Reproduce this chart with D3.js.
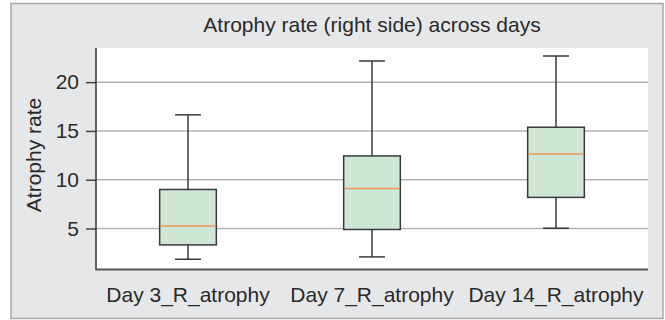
<!DOCTYPE html>
<html>
<head>
    <title>Atrophy rate (right side) across days</title>
    <script src="https://cdnjs.cloudflare.com/ajax/libs/d3/7.8.5/d3.min.js"></script>
    <style>
    body { margin:0; background:#fff; }
    svg { display:block; font-family:"Liberation Sans", Arial, sans-serif; }
    </style>
</head>
<body>
<div class="chart"></div>
<script>
// data
var categories = ['Day 3_R_atrophy', 'Day 7_R_atrophy', 'Day 14_R_atrophy'];
var mins    = [1.85, 2.09, 5.03];
var q1s     = [3.32, 4.90, 8.19];
var medians = [5.27, 9.11, 12.64];
var q3s     = [9.00, 12.44, 15.38];
var maxs    = [16.65, 22.17, 22.68];
var yTicks  = [5, 10, 15, 20];

var width = 665, height = 320;
var plot = {left:96, right:648, top:48, bottom:269.5};

var svg = d3.select('.chart').append('svg')
    .attr('width', width)
    .attr('height', height);

// outer frame
svg.append('rect')
    .attr('x', 11).attr('y', 3.5)
    .attr('width', 652).attr('height', 315)
    .attr('fill', '#e6e7e9')
    .attr('stroke', '#a9a9ab')
    .attr('stroke-width', 1.5);

svg.append('rect')
    .attr('x', plot.left).attr('y', plot.top)
    .attr('width', plot.right - plot.left).attr('height', plot.bottom - plot.top)
    .attr('fill', '#fff');

var x = d3.scaleBand().domain(categories).range([plot.left, plot.right]).padding(0);
var y = d3.scaleLinear().domain([0.8, 23.5]).range([plot.bottom, plot.top]);

// grid
svg.selectAll('.grid').data(yTicks).enter().append('line')
    .attr('class', 'grid')
    .attr('x1', plot.left).attr('x2', plot.right)
    .attr('y1', function(d) { return y(d); })
    .attr('y2', function(d) { return y(d); })
    .attr('stroke', '#b3b3b3')
    .attr('stroke-width', 1.5);

// y axis
var yAxis = svg.append('g')
    .attr('transform', 'translate(' + plot.left + ',0)')
    .call(d3.axisLeft(y).tickValues(yTicks).tickSize(10).tickPadding(7));
yAxis.select('.domain').remove();
yAxis.selectAll('.tick line').attr('stroke', '#444').attr('stroke-width', 1.5);
yAxis.selectAll('.tick text').attr('font-size', '21px').attr('fill', '#2a2a2a')
    .attr('font-family', '"Liberation Sans", Arial, sans-serif');

svg.append('line')
    .attr('x1', plot.left).attr('x2', plot.left)
    .attr('y1', plot.top).attr('y2', plot.bottom)
    .attr('stroke', '#333').attr('stroke-width', 1.5);

// x axis
svg.append('line')
    .attr('x1', plot.left - 0.75).attr('x2', plot.right)
    .attr('y1', plot.bottom).attr('y2', plot.bottom)
    .attr('stroke', '#555').attr('stroke-width', 2);

svg.selectAll('.xlab').data(categories).enter().append('text')
    .attr('class', 'xlab')
    .attr('x', function(d) { return x(d) + x.bandwidth() / 2; })
    .attr('y', 302)
    .attr('text-anchor', 'middle')
    .attr('font-size', '21px')
    .attr('fill', '#2a2a2a')
    .text(function(d) { return d; });

// boxes
var boxW = x.bandwidth() * 0.308;
var capW = x.bandwidth() * 0.141;
var boxes = svg.selectAll('.box').data(categories).enter().append('g')
    .attr('class', 'box')
    .attr('transform', function(d) { return 'translate(' + (x(d) + x.bandwidth() / 2) + ',0)'; });

boxes.append('line') // whisker
    .attr('x1', 0).attr('x2', 0)
    .attr('y1', function(d, i) { return y(mins[i]); })
    .attr('y2', function(d, i) { return y(maxs[i]); })
    .attr('stroke', '#3a3a3a').attr('stroke-width', 1.5);
boxes.append('line')
    .attr('x1', -capW / 2).attr('x2', capW / 2)
    .attr('y1', function(d, i) { return y(mins[i]); })
    .attr('y2', function(d, i) { return y(mins[i]); })
    .attr('stroke', '#3a3a3a').attr('stroke-width', 1.5);
boxes.append('line')
    .attr('x1', -capW / 2).attr('x2', capW / 2)
    .attr('y1', function(d, i) { return y(maxs[i]); })
    .attr('y2', function(d, i) { return y(maxs[i]); })
    .attr('stroke', '#3a3a3a').attr('stroke-width', 1.5);
boxes.append('rect')
    .attr('x', -boxW / 2).attr('width', boxW)
    .attr('y', function(d, i) { return y(q3s[i]); })
    .attr('height', function(d, i) { return y(q1s[i]) - y(q3s[i]); })
    .attr('fill', '#cde6d6')
    .attr('stroke', '#3a3a3a').attr('stroke-width', 1.5);
boxes.append('line')
    .attr('x1', -boxW / 2 + 1).attr('x2', boxW / 2 - 1)
    .attr('y1', function(d, i) { return y(medians[i]); })
    .attr('y2', function(d, i) { return y(medians[i]); })
    .attr('stroke', '#f0955a').attr('stroke-width', 1.5);

// title and y label
svg.append('text')
    .attr('x', (plot.left + plot.right) / 2).attr('y', 32)
    .attr('text-anchor', 'middle')
    .attr('font-size', '21px')
    .attr('fill', '#2a2a2a')
    .text('Atrophy rate (right side) across days');

svg.append('text')
    .attr('transform', 'translate(41,' + 155 + ') rotate(-90)')
    .attr('text-anchor', 'middle')
    .attr('font-size', '21px')
    .attr('fill', '#2a2a2a')
    .text('Atrophy rate');
</script>
</body>
</html>
